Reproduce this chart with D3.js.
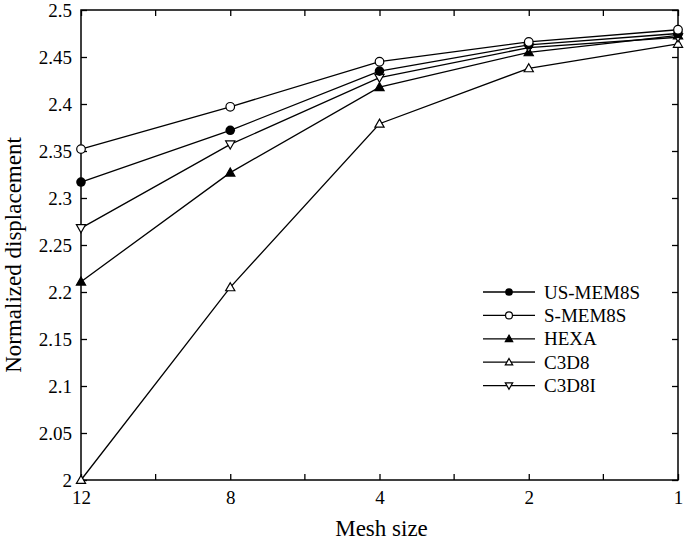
<!DOCTYPE html>
<html>
<head>
<meta charset="utf-8">
<script src="https://cdn.jsdelivr.net/npm/d3@7"></script>
<style>
  body { margin: 0; background: #fff; }
  svg { display: block; }
</style>
</head>
<body>
<div id="chart"></div>
<script>
// Data
const meshSizes = ['12', '8', '4', '2', '1'];
const usMem8s = [2.317, 2.372, 2.435, 2.463, 2.475];
const sMem8s = [2.352, 2.397, 2.445, 2.466, 2.479];
const hexa = [2.211, 2.327, 2.418, 2.455, 2.473];
const c3d8 = [2.000, 2.205, 2.379, 2.438, 2.464];
const c3d8i = [2.268, 2.357, 2.428, 2.460, 2.471];
const yTicks = [2, 2.05, 2.1, 2.15, 2.2, 2.25, 2.3, 2.35, 2.4, 2.45, 2.5];

const seriesNames = ['US-MEM8S', 'S-MEM8S', 'HEXA', 'C3D8', 'C3D8I'];
const seriesValues = [usMem8s, sMem8s, hexa, c3d8, c3d8i];
const markerTypes = ['circleFilled', 'circleOpen', 'triUpFilled', 'triUpOpen', 'triDownOpen'];

const FONT = '"Liberation Serif"';

const width = 685, height = 547;
const margin = { top: 10, right: 7, bottom: 67, left: 81 };
const innerW = width - margin.left - margin.right;
const innerH = height - margin.top - margin.bottom;

const svg = d3.select('#chart').append('svg')
  .attr('width', width)
  .attr('height', height);

const g = svg.append('g')
  .attr('transform', `translate(${margin.left},${margin.top})`);

const x = d3.scalePoint().domain(meshSizes).range([0, innerW]);
const y = d3.scaleLinear().domain([2, 2.5]).range([innerH, 0]);

// minor x ticks halfway between categories
const step = x.step();
const xMinor = meshSizes.slice(0, -1).map(d => x(d) + step / 2);

const tickLen = 6;

// frame
g.append('rect')
  .attr('width', innerW).attr('height', innerH)
  .attr('fill', 'none').attr('stroke', '#000').attr('stroke-width', 1.5);

// bottom axis
const xAxis = g.append('g')
  .attr('transform', `translate(0,${innerH})`)
  .call(d3.axisBottom(x).tickSize(-tickLen).tickPadding(tickLen + 5));
// left axis
const yAxis = g.append('g')
  .call(d3.axisLeft(y).tickValues(yTicks).tickSize(-tickLen).tickPadding(tickLen + 3)
    .tickFormat(d => String(+d.toFixed(2))));
// top and right ticks
g.append('g')
  .call(d3.axisTop(x).tickSize(-tickLen).tickFormat(''));
g.append('g')
  .attr('transform', `translate(${innerW},0)`)
  .call(d3.axisRight(y).tickValues(yTicks).tickSize(-tickLen).tickFormat(''));

[xAxis, yAxis].forEach(a => {
  a.selectAll('text').attr('font-size', 19).attr('fill', '#000')
    .style('font-family', FONT);
});
g.selectAll('.domain').remove();
g.selectAll('.tick line').attr('stroke', '#000').attr('stroke-width', 1.3);

// minor ticks
xMinor.forEach(px => {
  g.append('line').attr('x1', px).attr('x2', px).attr('y1', innerH).attr('y2', innerH - tickLen)
    .attr('stroke', '#000').attr('stroke-width', 1.3);
  g.append('line').attr('x1', px).attr('x2', px).attr('y1', 0).attr('y2', tickLen)
    .attr('stroke', '#000').attr('stroke-width', 1.3);
});

// marker drawing
function drawMarker(sel, type, cx, cy, k) {
  k = k || 1;
  if (type === 'circleFilled') {
    sel.append('circle').attr('cx', cx).attr('cy', cy).attr('r', 4.8 * k)
      .attr('fill', '#000');
  } else if (type === 'circleOpen') {
    sel.append('circle').attr('cx', cx).attr('cy', cy).attr('r', 4.3 * k)
      .attr('fill', '#fff').attr('stroke', '#000').attr('stroke-width', 1.2);
  } else {
    const s = 4.6 * k;
    const up = type !== 'triDownOpen';
    const pts = up
      ? [[cx, cy - s], [cx + s, cy + s * 0.75], [cx - s, cy + s * 0.75]]
      : [[cx, cy + s], [cx + s, cy - s * 0.75], [cx - s, cy - s * 0.75]];
    sel.append('path').attr('d', 'M' + pts.map(p => p.join(',')).join('L') + 'Z')
      .attr('fill', type === 'triUpFilled' ? '#000' : '#fff')
      .attr('stroke', '#000').attr('stroke-width', 1.2);
  }
}

const line = d3.line().x((d, i) => x(meshSizes[i])).y(d => y(d));

// lines (draw bottom series first so top markers stay visible)
const order = [3, 2, 4, 0, 1];
order.forEach(si => {
  g.append('path').datum(seriesValues[si])
    .attr('d', line).attr('fill', 'none')
    .attr('stroke', '#000').attr('stroke-width', 1.3);
});
order.forEach(si => {
  const mg = g.append('g');
  seriesValues[si].forEach((v, i) => drawMarker(mg, markerTypes[si], x(meshSizes[i]), y(v)));
});

// legend
const legend = g.append('g').attr('transform', `translate(${483 - margin.left},${292 - margin.top})`);
seriesNames.forEach((name, i) => {
  const row = legend.append('g').attr('transform', `translate(0,${i * 23.4})`);
  row.append('line').attr('x1', 0).attr('x2', 52).attr('y1', 0).attr('y2', 0)
    .attr('stroke', '#000').attr('stroke-width', 1.3);
  drawMarker(row, markerTypes[i], 26, 0, 0.8);
  row.append('text').attr('x', 61).attr('y', 0).attr('dy', '0.35em')
    .attr('font-size', 19).attr('fill', '#000').style('font-family', FONT).text(name);
});

// axis titles
svg.append('text')
  .attr('x', margin.left + innerW / 2 + 2).attr('y', 536)
  .attr('text-anchor', 'middle').attr('font-size', 23).attr('fill', '#000')
  .style('font-family', FONT)
  .text('Mesh size');
svg.append('text')
  .attr('transform', `translate(21,${255}) rotate(-90)`)
  .attr('text-anchor', 'middle').attr('font-size', 23).attr('fill', '#000')
  .style('font-family', FONT)
  .text('Normalized displacement');
</script>
</body>
</html>
